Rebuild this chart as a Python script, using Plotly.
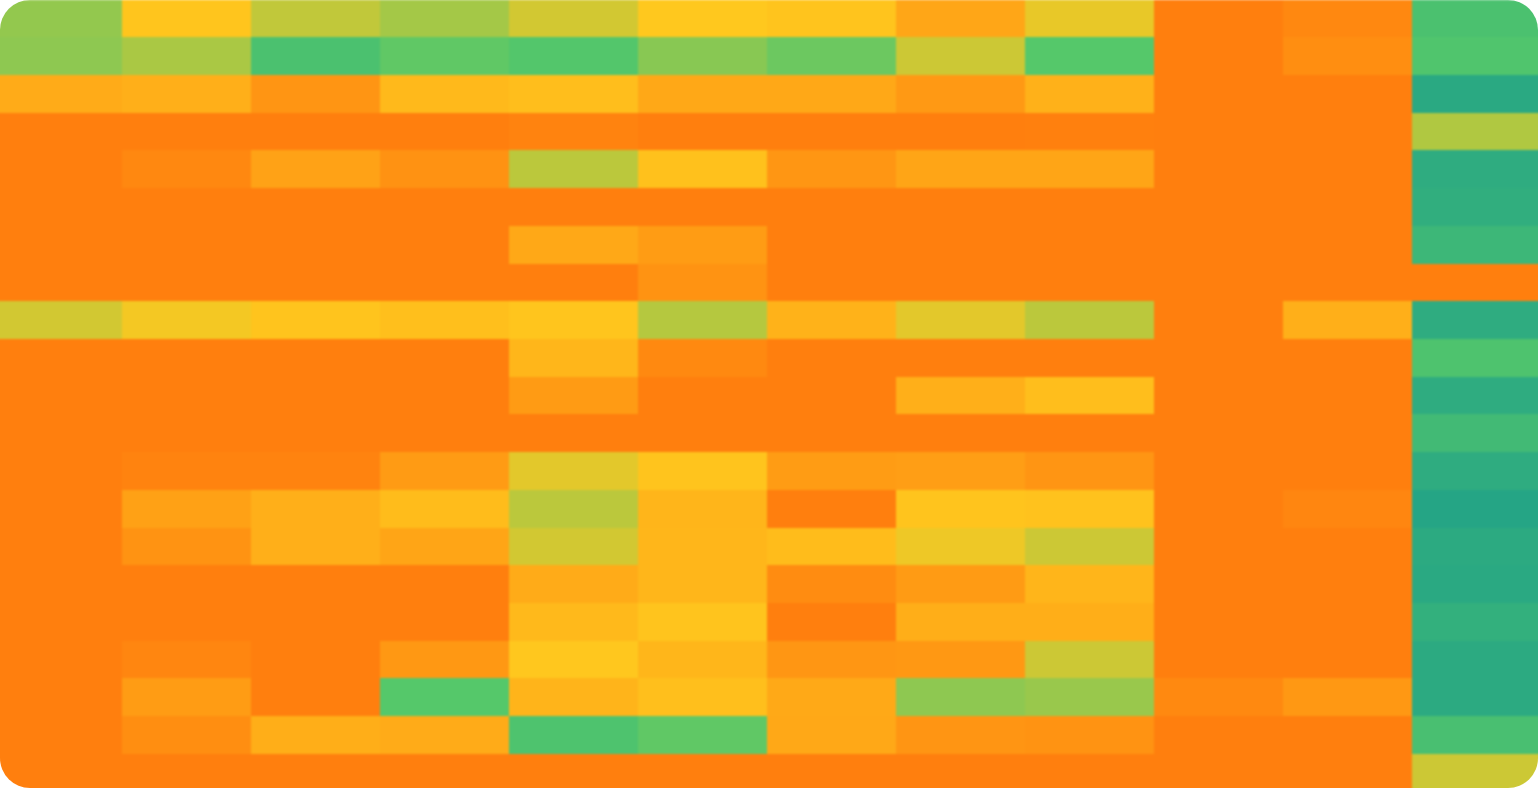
import plotly.graph_objects as go

rows = [
 [69,48,61,66,58,50,47,27,54,0,6,84],
 [70,65,84,78,81,71,76,59,80,0,10,82],
 [30,33,15,40,43,28,28,18,34,0,0,98],
 [0,0,0,0,3,0,0,0,1,0,0,64],
 [0,6,24,13,62,45,16,26,26,0,0,96],
 [0,0,0,0,0,0,0,0,0,0,0,95],
 [0,0,0,0,28,20,0,0,0,0,0,90],
 [0,0,0,0,0,14,0,0,0,0,0,0],
 [58,52,47,44,48,63,35,55,62,0,33,96],
 [0,0,0,0,38,7,0,0,0,0,0,83],
 [0,0,0,0,19,0,0,33,43,0,0,96],
 [0,0,0,0,0,0,0,0,0,0,0,88],
 [0,3,3,19,55,47,20,21,15,0,0,96],
 [0,23,33,42,62,37,0,47,46,0,5,100],
 [0,14,33,26,58,38,42,53,59,0,0,97],
 [0,0,0,0,30,38,9,19,37,0,0,98],
 [0,0,0,0,40,47,0,32,32,0,0,94],
 [0,5,0,17,49,38,16,17,59,0,0,97],
 [0,20,0,80,36,44,29,70,68,7,17,97],
 [0,10,32,30,83,78,28,15,14,0,0,85],
 [0,0,0,0,0,0,0,0,0,0,0,59],
]
colorscale = [[0,"#ff7f0e"],[0.5,"#ffc81e"],[0.8,"#55c86a"],[1,"#25a585"]]

fig = go.Figure(go.Heatmap(z=rows, zmin=0, zmax=100, colorscale=colorscale,
                           showscale=False, hoverinfo="skip", xgap=0, ygap=0))
fig.update_layout(
    width=1538, height=788, margin=dict(l=0, r=0, t=0, b=0),
    paper_bgcolor="white", plot_bgcolor="white",
    xaxis=dict(visible=False, range=[-0.45, 11.48], constrain="domain", fixedrange=True),
    yaxis=dict(visible=False, range=[20.41, -0.49], fixedrange=True),
)
css = """
var s=document.createElement('style');
s.textContent='html,body{margin:0;padding:0;background:#fff;overflow:hidden}'
 +'.js-plotly-plot{border-radius:30px;overflow:hidden}'
 +'.heatmaplayer image{filter:blur(1px)}';
document.head.appendChild(s);
"""
fig.write_html("out.html", config={"displayModeBar": False}, post_script=css)
